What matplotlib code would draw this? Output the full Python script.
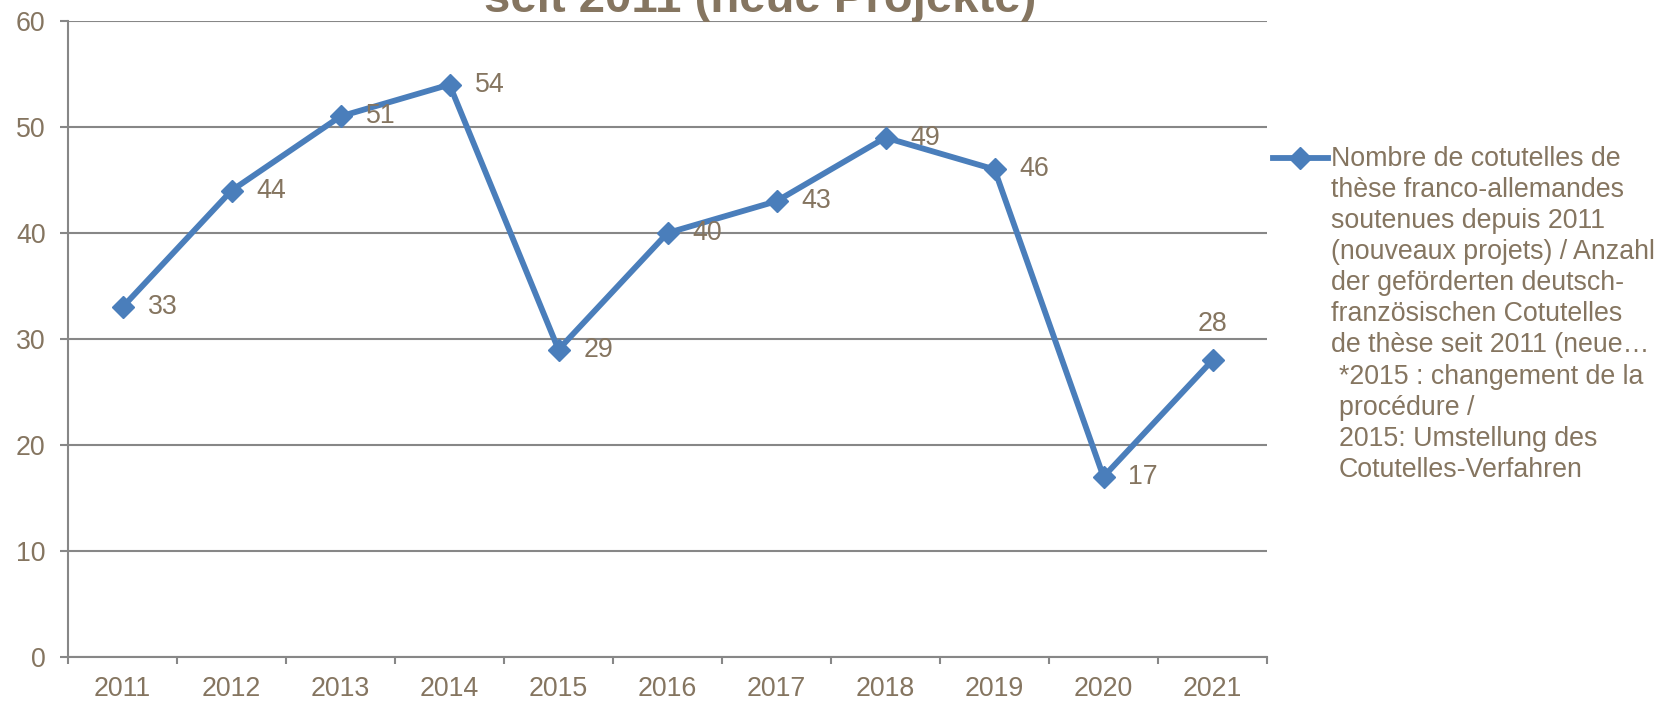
import matplotlib.pyplot as plt
from matplotlib.lines import Line2D

years = ["2011", "2012", "2013", "2014", "2015", "2016", "2017", "2018", "2019", "2020", "2021"]
values = [33, 44, 51, 54, 29, 40, 43, 49, 46, 17, 28]

series_name = ("Nombre de cotutelles de\nthèse franco-allemandes\nsoutenues depuis 2011\n"
               "(nouveaux projets) / Anzahl\nder geförderten deutsch-\nfranzösischen Cotutelles\n"
               "de thèse seit 2011 (neue…")
note = "*2015 : changement de la\nprocédure /\n2015: Umstellung des\nCotutelles-Verfahren"
title = "Anzahl der geförderten deutsch-französischen Cotutelles de thèse\nseit 2011 (neue Projekte)"

text_color = "#857560"
line_color = "#4A7EBB"
grid_color = "#878787"
fs = 19.3

plt.rcParams["font.family"] = ["Liberation Sans", "DejaVu Sans"]

W, H = 1670, 702
fig = plt.figure(figsize=(W / 100, H / 100), dpi=100)
ax = fig.add_axes([68 / W, 1 - 657 / H, (1267 - 68) / W, (657 - 21) / H])

x = list(range(len(years)))
ax.plot(x, values, "-D", color=line_color, linewidth=4.2, markersize=11,
        markerfacecolor=line_color, markeredgecolor=line_color, clip_on=False)

for i, v in enumerate(values):
    if i == len(values) - 1:
        ax.annotate(str(v), (i, v), xytext=(0, 26), textcoords="offset points",
                    ha="center", va="center", fontsize=fs, color=text_color)
    else:
        ax.annotate(str(v), (i, v), xytext=(18, 0), textcoords="offset points",
                    ha="left", va="center", fontsize=fs, color=text_color)

ax.set_xlim(-0.5, len(years) - 0.5)
ax.set_ylim(0, 60)
ax.set_yticks(range(0, 61, 10))
ax.yaxis.grid(True, color=grid_color, linewidth=1.5)
ax.set_axisbelow(True)

ax.set_xticks([i - 0.5 for i in range(len(years) + 1)])
ax.set_xticklabels([])
ax.set_xticks(x, minor=True)
ax.set_xticklabels(years, minor=True)
ax.tick_params(axis="x", which="major", length=5, width=1.5, color=grid_color)
ax.tick_params(axis="x", which="minor", length=0, pad=13.5, labelsize=fs, labelcolor=text_color)
ax.tick_params(axis="y", length=5.8, width=1.5, color=grid_color, pad=10.3,
               labelsize=fs, labelcolor=text_color)

for s in ["top", "right"]:
    ax.spines[s].set_visible(False)
for s in ["left", "bottom"]:
    ax.spines[s].set_color(grid_color)
    ax.spines[s].set_linewidth(1.5)

fig.text(760 / W, 1 - 12 / H, title, ha="center", va="baseline", fontsize=34,
         fontweight="bold", color=text_color, linespacing=1.1)

# legend drawn by hand to match the wrapped series name
fig.add_artist(Line2D([1273 / W, 1328 / W], [1 - 158 / H, 1 - 158 / H], color=line_color,
                      linewidth=4.2, transform=fig.transFigure))
fig.add_artist(Line2D([1300 / W], [1 - 158 / H], color=line_color, marker="D", markersize=11,
                      linestyle="none", transform=fig.transFigure))
fig.text(1331 / W, 1 - 146 / H, series_name, ha="left", va="top", fontsize=fs,
         color=text_color, linespacing=1.25)
fig.text(1339 / W, 1 - 364 / H, note, ha="left", va="top", fontsize=fs,
         color=text_color, linespacing=1.25)

fig.savefig("out.png", dpi=100)
